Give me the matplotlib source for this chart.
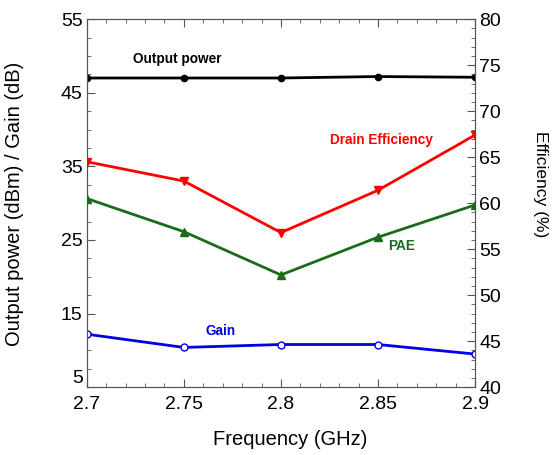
import matplotlib
matplotlib.use('Agg')
import matplotlib.pyplot as plt
from matplotlib.ticker import MultipleLocator

plt.rcParams['font.family'] = ['Liberation Sans', 'DejaVu Sans']

freq = [2.7, 2.75, 2.8, 2.85, 2.9]
pout = [47.0, 47.0, 47.0, 47.2, 47.1]
gain = [12.2, 10.4, 10.8, 10.8, 9.5]
drain_eff = [64.5, 62.4, 56.8, 61.4, 67.4]
pae = [60.5, 56.9, 52.2, 56.3, 59.8]

fig = plt.figure(figsize=(5.53, 4.55), dpi=100)
ax = fig.add_axes([0.157, 0.149, 0.702, 0.809])
ax2 = ax.twinx()

ax.plot(freq, pout, color='black', lw=2, marker='o', ms=4.5, zorder=3)
ax.plot(freq, gain, color='#0000e0', lw=2, marker='o', ms=5, mfc='white', mec='#0000e0', mew=1, zorder=3)
ax2.plot(freq, drain_eff, color='red', lw=2, marker='v', ms=6, zorder=3)
ax2.plot(freq, pae, color='#1a6b1a', lw=2, marker='^', ms=6, zorder=3)

ax.set_xlim(2.7, 2.9)
ax.set_ylim(5, 55)
ax2.set_ylim(40, 80)
ax.set_xticks(freq)
ax.set_xticklabels(['2.7', '2.75', '2.8', '2.85', '2.9'])
ax.set_yticks([5, 15, 25, 35, 45, 55])
ax2.set_yticks([40, 45, 50, 55, 60, 65, 70, 75, 80])
ax.xaxis.set_minor_locator(MultipleLocator(0.01))
ax.yaxis.set_minor_locator(MultipleLocator(2.5))
ax2.yaxis.set_minor_locator(MultipleLocator(1))

for a in (ax, ax2):
    a.tick_params(which='both', direction='in', color='#555555', labelsize=14, pad=3)
    a.tick_params(which='major', length=6)
    a.tick_params(which='minor', length=3)
    for s in a.spines.values():
        s.set_color('#555555')
ax.tick_params(axis='x', which='both', top=True, pad=6)

# the lowest left label sits just above the corner, as in the original
ax.get_yticklabels()[0].set_va('bottom')

fig.text(0.524, 0.033, 'Frequency (GHz)', fontsize=14.5, ha='center', va='center')
fig.text(0.027, 0.552, 'Output power (dBm) / Gain (dB)', fontsize=14.5, rotation=90, ha='center', va='center')
fig.text(0.978, 0.596, 'Efficiency (%)', fontsize=12.5, rotation=-90, ha='center', va='center')

ax.text(2.7465, 49.6, 'Output power', fontsize=9.8, fontweight='bold', ha='center', va='center')
ax.text(2.769, 12.6, 'Gain', fontsize=9.8, fontweight='bold', color='#0000e0', ha='center', va='center')
ax2.text(2.852, 66.9, 'Drain Efficiency', fontsize=9.8, fontweight='bold', color='red', ha='center', va='center')
ax2.text(2.862, 55.3, 'PAE', fontsize=9.8, fontweight='bold', color='#1a6b1a', ha='center', va='center')

fig.savefig('out.png', dpi=100)
